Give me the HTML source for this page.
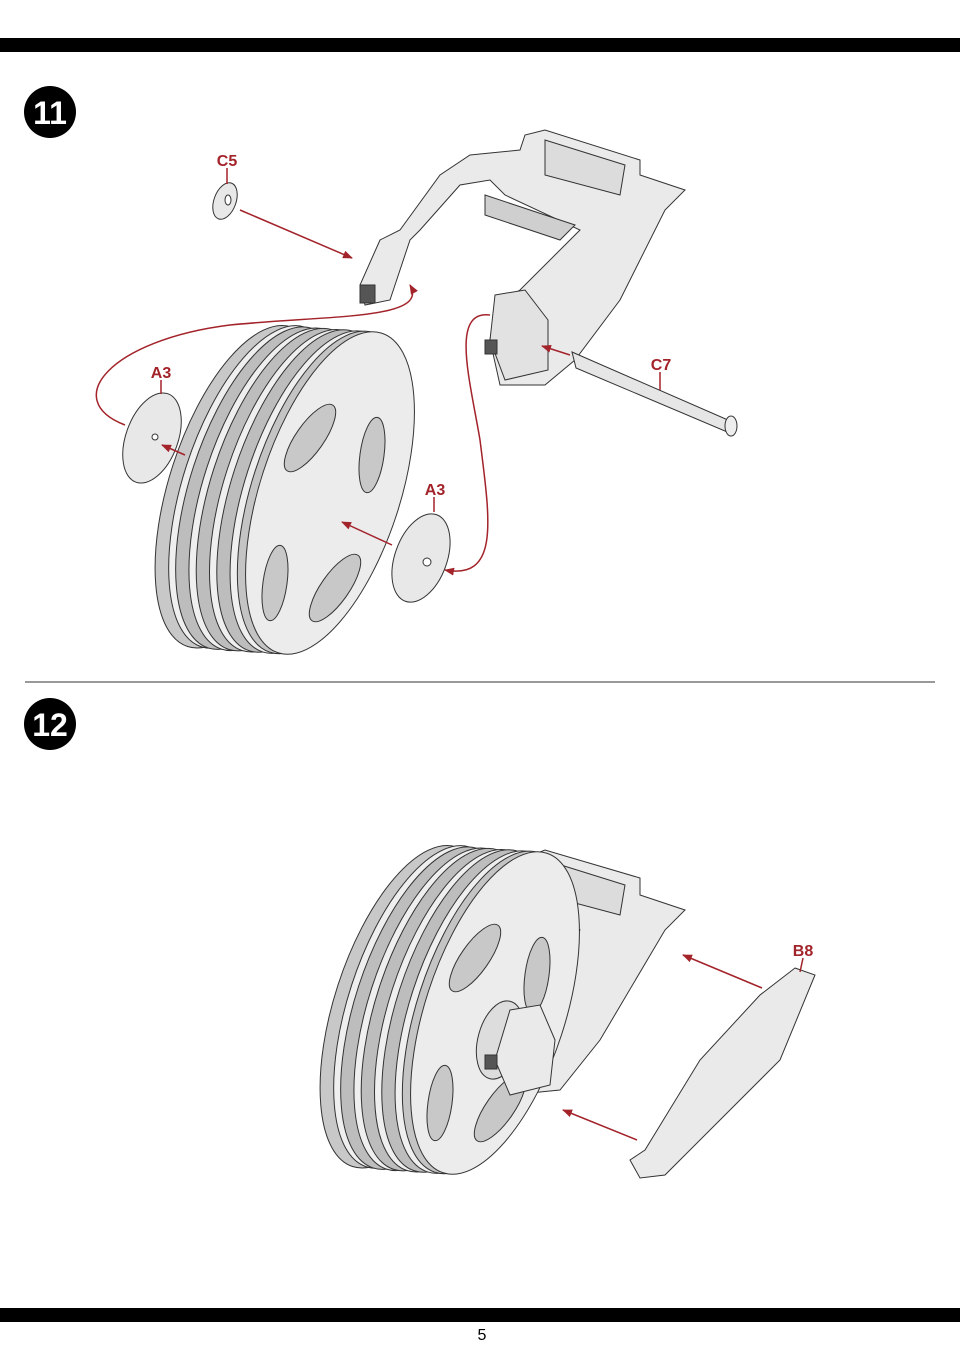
<!DOCTYPE html>
<html><head><meta charset="utf-8"><style>
body{margin:0;background:#fff;}
svg{display:block;}
text{font-family:"Liberation Sans",sans-serif;}
</style></head><body>
<svg width="960" height="1361" viewBox="0 0 960 1361" xmlns="http://www.w3.org/2000/svg">
<defs>
<marker id="ah" markerWidth="10" markerHeight="8" refX="9" refY="4" orient="auto" markerUnits="userSpaceOnUse"><path d="M0,0 L10,4 L0,8 Z" fill="#a3232a"/></marker>
<g id="wheel" stroke="#333" stroke-width="1">
  <g transform="rotate(18 0 0)">
  <ellipse cx="-88" cy="22" rx="70" ry="168" fill="#c8c8c8"/>
  <ellipse cx="-75" cy="18" rx="70" ry="168" fill="#efefef"/>
  <ellipse cx="-68" cy="17" rx="70" ry="168" fill="#bdbdbd"/>
  <ellipse cx="-55" cy="14" rx="70" ry="168" fill="#efefef"/>
  <ellipse cx="-48" cy="12" rx="70" ry="168" fill="#bdbdbd"/>
  <ellipse cx="-35" cy="9" rx="70" ry="168" fill="#efefef"/>
  <ellipse cx="-28" cy="7" rx="70" ry="168" fill="#bdbdbd"/>
  <ellipse cx="-15" cy="4" rx="70" ry="168" fill="#efefef"/>
  <ellipse cx="-8" cy="2" rx="70" ry="168" fill="#c4c4c4"/>
  <ellipse cx="0" cy="0" rx="70" ry="168" fill="#ececec"/>
  </g>
  <ellipse cx="-20" cy="-55" rx="14" ry="40" transform="rotate(35 -20 -55)" fill="#c8c8c8"/>
  <ellipse cx="42" cy="-38" rx="12" ry="38" transform="rotate(8 42 -38)" fill="#c8c8c8"/>
  <ellipse cx="-55" cy="90" rx="12" ry="38" transform="rotate(8 -55 90)" fill="#c8c8c8"/>
  <ellipse cx="5" cy="95" rx="14" ry="40" transform="rotate(35 5 95)" fill="#c8c8c8"/>
</g>
</defs>
<rect x="0" y="38" width="960" height="14" fill="#000"/>
<rect x="0" y="1308" width="960" height="14" fill="#000"/>
<text x="482" y="1340" font-size="16" text-anchor="middle">5</text>
<line x1="25" y1="682" x2="935" y2="682" stroke="#333" stroke-width="1"/>
<circle cx="50" cy="112" r="26" fill="#000"/>
<text x="50" y="124" font-size="32" font-weight="bold" fill="#fff" text-anchor="middle">11</text>
<circle cx="50" cy="724" r="26" fill="#000"/>
<text x="50" y="736" font-size="32" font-weight="bold" fill="#fff" text-anchor="middle">12</text>

<g stroke="#333" stroke-width="1" fill="#eaeaea">
  <path d="M470,155 L520,150 L525,135 L545,130 L640,160 L640,175 L685,190 L665,210 L620,300 L575,360 L545,385 L500,385 L490,340 L495,305 L520,290 L580,230 L505,195 L490,180 L460,185 L420,230 L410,240 L390,300 L365,305 L360,285 L380,240 L400,230 L440,175 Z"/>
  <path d="M545,140 L625,165 L620,195 L545,175 Z" fill="#dcdcdc"/>
  <path d="M495,295 L525,290 L548,320 L548,370 L505,380 L490,340 Z" fill="#e2e2e2"/>
  <path d="M485,195 L575,225 L560,240 L485,215 Z" fill="#cfcfcf"/>
  <rect x="360" y="285" width="15" height="18" fill="#555"/>
  <rect x="485" y="340" width="12" height="14" fill="#555"/>
  <path d="M572,352 L728,420 L732,434 L576,368 Z" fill="#e6e6e6"/>
  <ellipse cx="731" cy="426" rx="6" ry="10" fill="#eee"/>
</g>
<g stroke="#333" fill="#e8e8e8">
  <ellipse cx="225" cy="201" rx="11" ry="19" transform="rotate(20 225 201)"/>
  <ellipse cx="228" cy="200" rx="3" ry="5" fill="#fff"/>
  <ellipse cx="152" cy="438" rx="26" ry="47" transform="rotate(20 152 438)"/>
  <circle cx="155" cy="437" r="3" fill="#fff"/>
  <ellipse cx="421" cy="558" rx="26" ry="46" transform="rotate(20 421 558)"/>
  <circle cx="427" cy="562" r="4" fill="#fff"/>
</g>
<use href="#wheel" x="330" y="493"/>
<g stroke="#a3232a" stroke-width="1.5" fill="none">
  <line x1="240" y1="210" x2="352" y2="258" marker-end="url(#ah)"/>
  <line x1="570" y1="355" x2="542" y2="346" marker-end="url(#ah)"/>
  <line x1="185" y1="455" x2="162" y2="445" marker-end="url(#ah)"/>
  <line x1="392" y1="545" x2="342" y2="522" marker-end="url(#ah)"/>
  <path d="M125,425 C60,400 110,340 230,325 C330,315 430,320 410,285" marker-end="url(#ah)"/>
  <path d="M490,315 C450,310 470,380 480,440 C490,520 500,580 445,570" marker-end="url(#ah)"/>
  <line x1="227" y1="168" x2="227" y2="184"/>
  <line x1="161" y1="380" x2="161" y2="394"/>
  <line x1="434" y1="497" x2="434" y2="512"/>
  <line x1="660" y1="372" x2="660" y2="390"/>
</g>
<g fill="#a3232a" font-weight="bold" font-size="16" text-anchor="middle">
  <text x="227" y="166">C5</text>
  <text x="161" y="378">A3</text>
  <text x="435" y="495">A3</text>
  <text x="661" y="370">C7</text>
  <text x="803" y="956">B8</text>
</g>

<g stroke="#333" stroke-width="1" fill="#eaeaea">
  <path d="M520,860 L545,850 L640,878 L640,895 L685,910 L665,930 L600,1040 L560,1090 L510,1095 L490,1060 L510,1010 L545,975 L580,930 L545,900 Z"/>
  <path d="M545,860 L625,885 L620,915 L545,895 Z" fill="#dcdcdc"/>
</g>
<use href="#wheel" x="495" y="1013"/>
<g stroke="#333" stroke-width="1" fill="#eaeaea">
  <ellipse cx="500" cy="1040" rx="22" ry="40" transform="rotate(15 500 1040)" fill="#ddd"/>
  <path d="M510,1010 L540,1005 L555,1040 L550,1085 L510,1095 L495,1060 Z"/>
  <rect x="485" y="1055" width="12" height="14" fill="#555"/>
  <path d="M795,968 L815,975 L780,1060 L665,1175 L640,1178 L630,1160 L645,1150 L700,1060 L760,995 Z"/>
</g>
<g stroke="#a3232a" stroke-width="1.5" fill="none">
  <line x1="762" y1="988" x2="683" y2="955" marker-end="url(#ah)"/>
  <line x1="637" y1="1140" x2="563" y2="1110" marker-end="url(#ah)"/>
  <line x1="803" y1="958" x2="800" y2="972"/>
</g>
</svg>
</body></html>
